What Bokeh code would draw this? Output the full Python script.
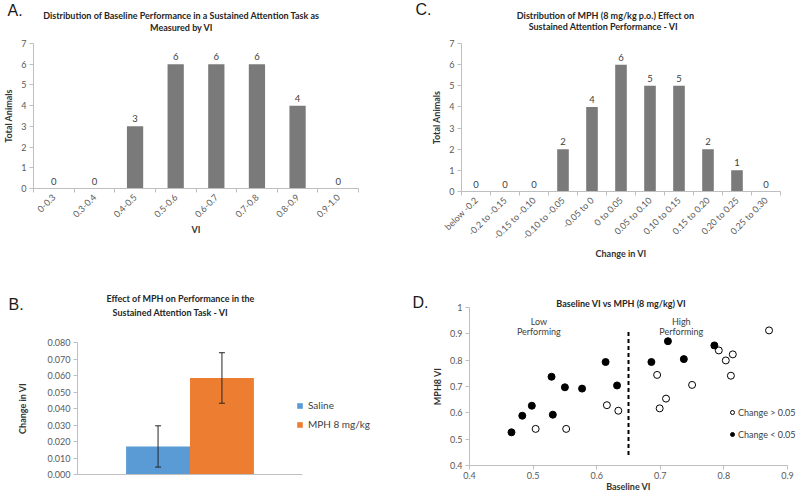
import math
from bokeh.plotting import figure
from bokeh.layouts import column, row
from bokeh.models import (ColumnDataSource, FixedTicker, Label, Legend, LegendItem,
                          NumeralTickFormatter, Range1d, Whisker, TeeHead)
from bokeh.core.properties import value
from bokeh.embed import file_html
from bokeh.resources import INLINE

# ---------------- data ----------------
# Panel A: baseline VI distribution
vi_bins = ["0-0.3", "0.3-0.4", "0.4-0.5", "0.5-0.6", "0.6-0.7", "0.7-0.8", "0.8-0.9", "0.9-1.0"]
vi_counts = [0, 0, 3, 6, 6, 6, 4, 0]

# Panel C: MPH effect distribution
change_bins = ["below -0.2", "-0.2 to -0.15", "-0.15 to -0.10", "-0.10 to -0.05", "-0.05 to 0",
               "0 to 0.05", "0.05 to 0.10", "0.10 to 0.15", "0.15 to 0.20", "0.20 to 0.25",
               "0.25 to 0.30"]
change_counts = [0, 0, 0, 2, 4, 6, 5, 5, 2, 1, 0]
count_ticks = [0, 1, 2, 3, 4, 5, 6, 7]

# Panel B: mean change in VI
groups = ["Saline", "MPH 8 mg/kg"]
group_means = [0.017, 0.0585]
group_errors = [0.0125, 0.0153]
group_colors = ["#5b9bd5", "#ed7d31"]
b_yticks = [0.0, 0.01, 0.02, 0.03, 0.04, 0.05, 0.06, 0.07, 0.08]

# Panel D: baseline vs MPH VI
open_base = [0.504, 0.552, 0.616, 0.634, 0.695, 0.699, 0.709, 0.750, 0.792, 0.803, 0.814, 0.811, 0.871]
open_mph = [0.539, 0.539, 0.629, 0.608, 0.744, 0.617, 0.654, 0.706, 0.837, 0.799, 0.822, 0.741, 0.913]
filled_base = [0.466, 0.483, 0.498, 0.531, 0.529, 0.550, 0.577, 0.614, 0.632, 0.686, 0.712, 0.737, 0.785]
filled_mph = [0.526, 0.589, 0.627, 0.593, 0.737, 0.697, 0.692, 0.793, 0.704, 0.793, 0.872, 0.804, 0.856]
split_x = 0.65
split_y = [0.44, 0.91]
d_xticks = [0.4, 0.5, 0.6, 0.7, 0.8, 0.9]
d_yticks = [0.4, 0.5, 0.6, 0.7, 0.8, 0.9, 1.0]

# ---------------- styling ----------------
FONT = "Lato"
TICK_TXT = "#595959"
AXIS_LINE = "#bfbfbf"
TITLE_TXT = "#262626"
BAR_GRAY = "#7a7a7a"
TOP_H = 262
BOT_H = 234
LEFT_W = 400
RIGHT_W = 399


def x_fit(d0, d1, p0, p1, total):
    k = (p1 - p0) / (d1 - d0)
    return Range1d(d0 - p0 / k, d1 + (total - p1) / k)


def y_fit(d0, d1, p0, p1, total):
    # d0 (bottom value) at pixel p0 from top, d1 (top value) at pixel p1 from top
    k = (p0 - p1) / (d1 - d0)
    return Range1d(d0 - (total - p0) / k, d1 + p1 / k)


def make_fig(width, height, xr, yr, xb, yb):
    """Frame fills the whole figure; axes sit at fixed data locations with bounds."""
    p = figure(width=width, height=height, x_range=xr, y_range=yr,
               output_backend="svg", toolbar_location=None, min_border=0)
    p._h = height
    p.outline_line_color = None
    p.xgrid.visible = False
    p.ygrid.visible = False
    p.background_fill_color = "white"
    p.border_fill_color = "white"
    p.xaxis.fixed_location = yb[0]
    p.yaxis.fixed_location = xb[0]
    p.xaxis.bounds = xb
    p.yaxis.bounds = yb
    for ax in (p.xaxis, p.yaxis):
        ax.axis_line_color = AXIS_LINE
        ax.major_tick_line_color = AXIS_LINE
        ax.minor_tick_line_color = AXIS_LINE
        ax.major_tick_in = 0
        ax.major_tick_out = 4
        ax.minor_tick_in = 0
        ax.minor_tick_out = 0
        ax.major_label_text_font = FONT
        ax.major_label_text_font_size = "9px"
        ax.major_label_text_color = TICK_TXT
        ax.axis_label_text_font = FONT
        ax.axis_label_text_font_style = "bold"
        ax.axis_label_text_font_size = "9px"
        ax.axis_label_text_color = "#333333"
        ax.major_label_standoff = 3
        ax.axis_label_standoff = 4
    p.xaxis.axis_label_standoff = 0
    return p


def fig_label(p, fx, fy, text, size="9px", bold=True, align="center", baseline="middle",
              font=FONT, color=TITLE_TXT):
    """Text at figure pixel (fx, fy) from the figure's top-left corner."""
    p.add_layout(Label(x=fx, y=p._h - fy, x_units="screen", y_units="screen", text=text,
                       text_font=font, text_font_size=size,
                       text_font_style="bold" if bold else "normal",
                       text_align=align, text_baseline=baseline, text_color=color))


def letter(p, fx, fy, text):
    fig_label(p, fx, fy, text, size="16px", bold=False, align="left", baseline="top",
              font="Liberation Sans", color="#1a1a1a")


def histogram(cats, counts, width, px, py, xlabel):
    n = len(cats)
    idx = list(range(n))
    xb = (-0.5, n - 0.5)
    yb = (0, 7)
    p = make_fig(width, TOP_H, x_fit(xb[0], xb[1], px[0], px[1], width),
                 y_fit(yb[0], yb[1], py[0], py[1], TOP_H), xb, yb)
    src = ColumnDataSource(dict(x=idx, top=counts, label=[str(c) for c in counts]))
    p.vbar(x="x", top="top", width=0.4, source=src, fill_color=BAR_GRAY, line_color=None)
    p.text(x="x", y="top", text="label", source=src, text_align="center",
           text_baseline="bottom", y_offset=-4, text_font=value(FONT),
           text_font_size="9.5px", text_color="#404040")
    p.xaxis.ticker = FixedTicker(ticks=idx, minor_ticks=[i - 0.5 for i in range(n + 1)])
    p.xaxis.major_label_overrides = {i: c for i, c in enumerate(cats)}
    p.xaxis.major_label_orientation = math.pi / 4
    p.xaxis.major_tick_out = 0
    p.xaxis.minor_tick_out = 4
    p.yaxis.ticker = FixedTicker(ticks=count_ticks)
    p.yaxis.axis_label = "Total Animals"
    p.xaxis.axis_label = xlabel
    return p


# ---------------- Panel A ----------------
pA = histogram(vi_bins, vi_counts, LEFT_W, (33, 358), (188, 43), "VI")
letter(pA, 7, 1, "A.")
fig_label(pA, 181, 15, "Distribution of Baseline Performance in a Sustained Attention Task as")
fig_label(pA, 181, 27, "Measured by VI")

# ---------------- Panel C ----------------
pC = histogram(change_bins, change_counts, RIGHT_W, (61, 380), (191, 43), "Change in VI")
letter(pC, 15, 0, "C.")
fig_label(pC, 205, 15, "Distribution of MPH (8 mg/kg p.o.) Effect on")
fig_label(pC, 203, 26, "Sustained Attention Performance - VI")

# ---------------- Panel B ----------------
bxb = (0, 1)
byb = (0, 0.08)
pB = make_fig(LEFT_W, BOT_H, x_fit(bxb[0], bxb[1], 77, 302, LEFT_W),
              y_fit(byb[0], byb[1], 212, 80, BOT_H), bxb, byb)
bar_w = 0.284
b_src = ColumnDataSource(dict(
    x=[0.5 + (i - 0.5) * bar_w for i in range(len(groups))],
    top=group_means,
    upper=[m + e for m, e in zip(group_means, group_errors)],
    lower=[m - e for m, e in zip(group_means, group_errors)],
    color=group_colors,
    label=groups,
))
rb = pB.vbar(x="x", top="top", width=bar_w, fill_color="color", line_color=None, source=b_src)
pB.add_layout(Whisker(base="x", upper="upper", lower="lower", source=b_src, level="overlay",
                      line_color="#262626", line_width=1,
                      upper_head=TeeHead(size=6, line_color="#262626", line_width=1),
                      lower_head=TeeHead(size=6, line_color="#262626", line_width=1)))
pB.xaxis.ticker = FixedTicker(ticks=[])
pB.xaxis.major_tick_out = 0
pB.yaxis.ticker = FixedTicker(ticks=b_yticks)
pB.yaxis.formatter = NumeralTickFormatter(format="0.000")
pB.yaxis.axis_label = "Change in VI"
pB.yaxis.axis_label_standoff = 16
legB = Legend(items=[LegendItem(label=g, renderers=[rb], index=i) for i, g in enumerate(groups)],
              location=(296, 66), orientation="vertical", margin=0, padding=0,
              spacing=7, glyph_width=7, glyph_height=7, label_height=10,
              label_standoff=5, label_text_font=FONT, label_text_font_size="10px",
              label_text_color="#404040", border_line_color=None, background_fill_alpha=0)
pB.add_layout(legB, "center")
letter(pB, 8, 33, "B.")
fig_label(pB, 180, 36, "Effect of MPH on Performance in the")
fig_label(pB, 170, 50, "Sustained Attention Task - VI")

# ---------------- Panel D ----------------
dxb = (0.4, 0.9)
dyb = (0.4, 1.0)
pD = make_fig(RIGHT_W, BOT_H, x_fit(dxb[0], dxb[1], 69, 387, RIGHT_W),
              y_fit(dyb[0], dyb[1], 203, 45, BOT_H), dxb, dyb)
pD.xaxis.ticker = FixedTicker(ticks=d_xticks)
pD.yaxis.ticker = FixedTicker(ticks=d_yticks)
pD.yaxis.major_label_overrides = {1.0: "1"}
pD.xaxis.axis_label = "Baseline VI"
pD.yaxis.axis_label = "MPH8 VI"
pD.xaxis.major_label_standoff = 2
pD.xaxis.axis_label_standoff = -1
pD.line(x=[split_x, split_x], y=split_y, line_color="black", line_width=2, line_dash="4 3")
r_open = pD.scatter(open_base, open_mph, size=7, fill_color="white", line_color="black",
                    line_width=1)
r_fill = pD.scatter(filled_base, filled_mph, size=7, fill_color="black", line_color="black")
legD = Legend(items=[LegendItem(label="Change > 0.05", renderers=[r_open]),
                     LegendItem(label="Change < 0.05", renderers=[r_fill])],
              location=(327, 56), orientation="vertical", margin=0, padding=0,
              spacing=10, glyph_width=10, glyph_height=12, label_height=12,
              label_standoff=1, label_text_font=FONT, label_text_font_size="9px",
              label_text_color="#404040", border_line_color=None, background_fill_alpha=0)
pD.add_layout(legD, "center")
for txt, x, y in [("Low", 0.509, 0.946), ("Performing", 0.509, 0.908),
                  ("High", 0.733, 0.946), ("Performing", 0.733, 0.908)]:
    pD.add_layout(Label(x=x, y=y, text=txt, text_font=FONT, text_font_size="9px",
                        text_align="center", text_baseline="middle", text_color="#404040"))
letter(pD, 12, 31, "D.")
fig_label(pD, 221, 41, "Baseline VI vs MPH (8 mg/kg) VI")

layout = column(row(pA, pC), row(pB, pD))
open("out.html", "w").write(file_html(layout, INLINE))
